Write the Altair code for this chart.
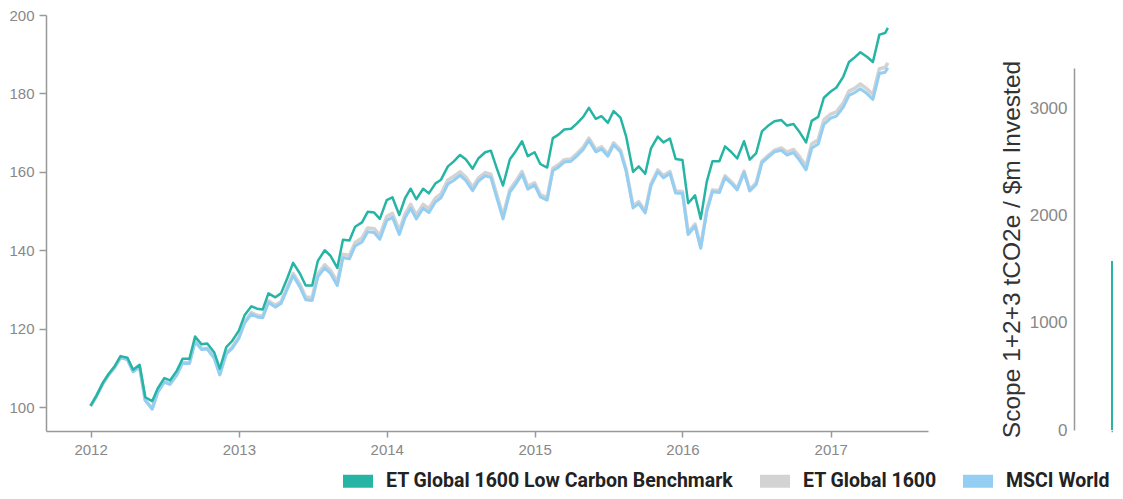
import altair as alt
import pandas as pd

SERIES = ["ET Global 1600 Low Carbon Benchmark", "ET Global 1600", "MSCI World"]
COLORS = ["#26b5a4", "#d3d3d3", "#94cef2"]

dates = []
for yy in range(2012, 2018):
    for mm in range(1, 13):
        for dd in (1, 15):
            dates.append(f"{yy}-{mm:02d}-{dd:02d}T00:00:00")
dates = dates[:130] + ["2017-05-22T00:00:00"]

low_carbon = [
    100.3, 102.8, 106.3, 108.5, 110.5, 113.0, 112.6, 109.5, 110.8, 102.5,
    101.5, 104.8, 107.4, 106.8, 109.3, 112.3, 112.3, 118.0, 116.0, 116.2,
    114.0, 109.8, 115.3, 116.8, 119.5, 123.4, 125.7, 125.1, 124.9, 129.0,
    128.0, 129.0, 133.0, 136.8, 134.0, 131.0, 131.0, 137.3, 140.0, 138.6,
    135.5, 142.7, 142.5, 146.0, 147.1, 149.8, 149.6, 148.0, 152.8, 153.5,
    149.0, 153.2, 155.7, 153.0, 155.7, 154.5, 157.0, 158.0, 161.4, 162.6,
    164.3, 163.2, 160.8, 163.4, 165.0, 165.4, 160.5, 156.5, 163.2, 165.2,
    167.8, 164.0, 165.0, 162.0, 161.1, 168.6, 169.5, 170.8, 171.0, 172.3,
    174.0, 176.3, 173.5, 174.2, 172.5, 175.5, 173.8, 169.0, 160.0, 161.4,
    159.5, 165.9, 169.0, 167.5, 168.5, 163.3, 163.0, 152.0, 154.0, 148.0,
    157.5, 162.7, 162.7, 166.5, 165.0, 163.4, 167.8, 163.1, 164.8, 170.3,
    171.9, 172.9, 173.2, 171.8, 172.2, 170.3, 167.5, 173.0, 174.0, 178.9,
    180.5, 181.5, 184.3, 188.0, 189.2, 190.5, 189.3, 188.0, 195.0, 195.4,
    196.7,
]

et_global = [
    100.3, 102.7, 106.1, 108.3, 110.2, 112.7, 112.2, 109.1, 110.3, 101.8,
    99.6, 103.9, 106.5, 105.9, 108.4, 111.4, 111.3, 116.9, 114.9, 115.0,
    112.8, 108.5, 113.9, 115.2, 117.9, 121.8, 124.1, 123.4, 123.2, 127.1,
    126.0, 126.9, 130.8, 134.1, 131.3, 128.1, 128.0, 134.0, 136.3, 134.9,
    131.9, 139.0, 138.7, 142.0, 143.1, 145.7, 145.5, 143.8, 148.6, 149.4,
    145.0, 149.2, 151.7, 149.0, 151.7, 150.6, 153.3, 154.4, 157.9, 158.8,
    160.0, 158.7, 156.1, 158.4, 159.8, 159.4, 153.7, 148.8, 155.5, 157.5,
    160.1, 156.3, 157.2, 154.2, 153.4, 160.9, 161.8, 163.1, 163.3, 164.6,
    166.3, 168.6, 165.7, 166.4, 164.5, 167.4, 165.6, 160.6, 151.3, 152.4,
    150.0, 156.9, 160.5, 159.0, 160.1, 155.1, 155.0, 144.5, 146.7, 141.0,
    150.4, 155.4, 155.2, 159.0, 157.4, 155.8, 160.2, 155.5, 157.2, 162.7,
    164.3, 165.5, 166.1, 165.0, 165.7, 164.0, 161.5, 167.1, 168.2, 173.3,
    174.7, 175.3, 177.6, 180.6, 181.3, 182.4, 181.1, 179.7, 186.3, 186.6,
    187.8,
]

msci_world = [
    100.3, 102.7, 106.1, 108.3, 110.2, 112.6, 112.1, 109.0, 110.2, 101.7,
    99.5, 103.8, 106.4, 105.8, 108.2, 111.2, 111.1, 116.7, 114.7, 114.8,
    112.5, 108.2, 113.6, 114.9, 117.5, 121.4, 123.7, 123.0, 122.8, 126.7,
    125.5, 126.4, 130.2, 133.5, 130.6, 127.4, 127.2, 133.2, 135.5, 134.1,
    131.0, 138.1, 137.8, 141.1, 142.1, 144.7, 144.5, 142.8, 147.6, 148.4,
    144.0, 148.2, 150.7, 148.0, 150.7, 149.6, 152.3, 153.4, 156.9, 157.8,
    159.1, 157.8, 155.2, 157.6, 159.0, 158.6, 152.9, 148.0, 154.8, 156.8,
    159.4, 155.6, 156.6, 153.6, 152.8, 160.3, 161.2, 162.5, 162.7, 164.0,
    165.7, 168.0, 165.1, 165.8, 164.0, 166.9, 165.1, 160.1, 150.8, 151.9,
    149.5, 156.4, 160.0, 158.5, 159.6, 154.6, 154.5, 144.0, 146.2, 140.5,
    149.9, 154.9, 154.7, 158.5, 157.0, 155.4, 159.8, 155.1, 156.8, 162.3,
    163.9, 165.1, 165.5, 164.3, 164.9, 163.1, 160.5, 166.0, 167.1, 172.1,
    173.7, 174.2, 176.5, 179.5, 180.2, 181.2, 179.9, 178.5, 185.1, 185.4,
    186.5,
]

y_ticks = [100, 120, 140, 160, 180, 200]
intensity_series = ["ET Global 1600 Low Carbon Benchmark"]
intensity_values = [1575]
intensity_ticks = [0, 1000, 2000, 3000]

rows = []
for name, vals in zip(SERIES, [low_carbon, et_global, msci_world]):
    for d, v in zip(dates, vals):
        rows.append({"date": d, "series": name, "value": v})
df = pd.DataFrame(rows)
df_bar = pd.DataFrame({"series": intensity_series, "intensity": intensity_values})

FONT = "Liberation Sans"

x_enc = alt.X(
    "date:T",
    scale=alt.Scale(domain=[alt.DateTime(year=2011, month=9, date=13),
                            alt.DateTime(year=2017, month=8, date=29)]),
    axis=alt.Axis(title=None, format="%Y", tickCount="year", grid=False,
                  labelFontSize=15, labelColor="#888", labelFont=FONT,
                  tickColor="#999", domainColor="#999", tickSize=6,
                  tickWidth=1.5, domainWidth=1.5, labelPadding=5),
)
y_enc = alt.Y(
    "value:Q",
    scale=alt.Scale(domain=[93.9, 200], nice=False, zero=False),
    axis=alt.Axis(title=None, values=y_ticks, grid=False,
                  labelFontSize=15, labelColor="#888", labelFont=FONT,
                  tickColor="#999", domainColor="#999", tickSize=7,
                  tickWidth=1.5, domainWidth=1.5, labelPadding=5),
)

base = alt.Chart(df)
layers = []
for idx, width in [(1, 3.5), (2, 3.0), (0, 2.5)]:
    layers.append(
        base.transform_filter(alt.FieldEqualPredicate(field="series", equal=SERIES[idx]))
        .mark_line(color=COLORS[idx], strokeWidth=width, strokeJoin="round")
        .encode(x=x_enc, y=y_enc)
    )
lines = alt.layer(*layers).properties(width=882, height=416)

bar = alt.Chart(df_bar).mark_bar().encode(
    x=alt.X("series:N",
            scale=alt.Scale(range=[37, 39], paddingInner=0, paddingOuter=0),
            axis=alt.Axis(title=None, labels=False, ticks=False,
                          domainColor="#999", domainWidth=1.5)),
    y=alt.Y("intensity:Q",
            scale=alt.Scale(domain=[0, 3373], nice=False, range=[415, 53]),
            axis=alt.Axis(values=intensity_ticks, ticks=False, grid=False,
                          format="d",
                          title="Scope 1+2+3 tCO2e / $m Invested",
                          titleFontSize=24.5, titleFontWeight="normal",
                          titleColor="#333", titleFont=FONT, titlePadding=5,
                          labelFontSize=17, labelColor="#888", labelFont=FONT,
                          labelPadding=7, domainColor="#999", domainWidth=1.5)),
    color=alt.Color("series:N",
                    scale=alt.Scale(domain=SERIES, range=COLORS),
                    legend=alt.Legend(
                        title=None, orient="none", legendX=297, legendY=451,
                        direction="horizontal",
                        symbolType="M-1,-0.433L1,-0.433L1,0.433L-1,0.433Z",
                        symbolSize=900, symbolStrokeWidth=0, symbolOpacity=1,
                        labelFontSize=19.5, labelFont="Roboto",
                        labelFontWeight="bold", labelColor="#222",
                        labelOffset=13, columnPadding=26, padding=0,
                        labelLimit=600)),
).properties(width=39, height=416)

chart = alt.hconcat(lines, bar, spacing=146, bounds="flush").properties(
    padding={"left": 0, "top": 0, "right": 0, "bottom": 0}
).configure_view(stroke=None)

chart.save("out.html", embed_options={"renderer": "svg", "actions": False})
